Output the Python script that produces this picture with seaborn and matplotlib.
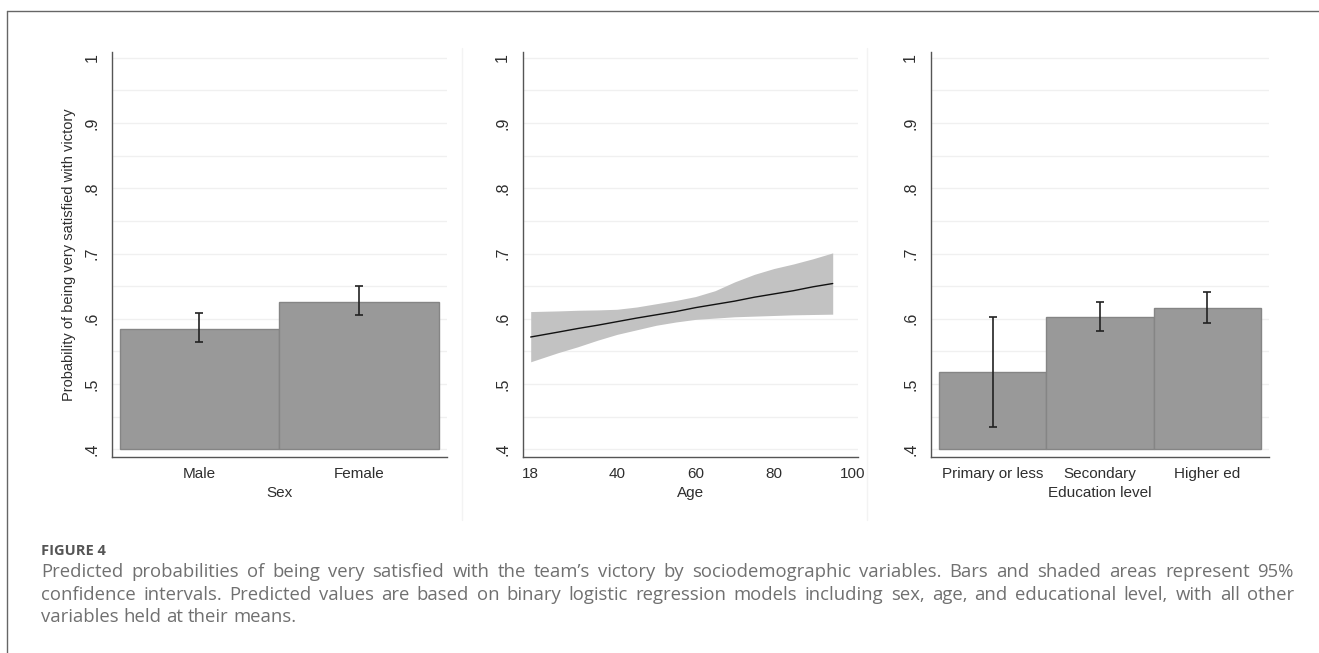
import matplotlib
matplotlib.use("Agg")
import matplotlib.pyplot as plt
from matplotlib.lines import Line2D
import seaborn as sns
import numpy as np
import pandas as pd

# ---------------- data ----------------
sex_labels = ["Male", "Female"]
sex_prob = [0.585, 0.626]
sex_lo = [0.565, 0.606]
sex_hi = [0.609, 0.650]

age = [18, 25, 30, 35, 40, 45, 50, 55, 60, 65, 70, 75, 80, 85, 90, 95]
age_prob = [0.572, 0.5795, 0.585, 0.590, 0.5955, 0.601, 0.606, 0.611, 0.617,
            0.622, 0.627, 0.633, 0.638, 0.643, 0.649, 0.654]
age_hi = [0.611, 0.612, 0.613, 0.6135, 0.6145, 0.618, 0.623, 0.628, 0.634,
          0.643, 0.6565, 0.668, 0.677, 0.684, 0.692, 0.701]
age_lo = [0.534, 0.548, 0.557, 0.567, 0.576, 0.583, 0.590, 0.595, 0.599,
          0.601, 0.603, 0.604, 0.605, 0.606, 0.6065, 0.607]

edu_labels = ["Primary or less", "Secondary", "Higher ed"]
edu_prob = [0.519, 0.602, 0.616]
edu_lo = [0.4345, 0.581, 0.593]
edu_hi = [0.602, 0.626, 0.641]

y_ticks = [0.4, 0.5, 0.6, 0.7, 0.8, 0.9, 1.0]
y_ticklabels = [".4", ".5", ".6", ".7", ".8", ".9", "1"]
age_ticks = [18, 40, 60, 80, 100]

ylabel = "Probability of being very satisfied with victory"
caption_head = "FIGURE 4"
caption_lines = [
    "Predicted probabilities of being very satisfied with the team\u2019s victory by sociodemographic variables. Bars and shaded areas represent 95%",
    "confidence intervals. Predicted values are based on binary logistic regression models including sex, age, and educational level, with all other",
    "variables held at their means.",
]

# ---------------- style ----------------
sns.set_style("white")
plt.rcParams["font.family"] = ["Liberation Sans", "DejaVu Sans"]

W, H = 1319, 653
fig = plt.figure(figsize=(W / 100, H / 100), dpi=100)

def box(x0, x1, y0, y1):
    return [x0 / W, 1 - y1 / H, (x1 - x0) / W, (y1 - y0) / H]

ax1 = fig.add_axes(box(112, 447, 52, 457))
ax2 = fig.add_axes(box(522.7, 858, 52, 457))
ax3 = fig.add_axes(box(930.7, 1269.3, 52, 457))

SPINE = "#555555"
BAR = "#999999"
BAREDGE = "#858585"
GRID = "#f0f0f0"
TXT = "#2e2e2e"

def style_axis(ax):
    for s in ["top", "right"]:
        ax.spines[s].set_visible(False)
    for s in ["left", "bottom"]:
        ax.spines[s].set_color(SPINE)
        ax.spines[s].set_linewidth(1.0)
    ax.set_ylim(0.388, 1.009)
    ax.set_yticks(y_ticks)
    ax.set_yticklabels(y_ticklabels, rotation=90, va="center", fontsize=11.5, color=TXT)
    ax.tick_params(axis="both", which="major", length=5, width=1, color=SPINE, direction="out")
    ax.tick_params(axis="y", pad=4)
    ax.tick_params(axis="x", pad=2, labelsize=11, labelcolor=TXT)
    for g in np.arange(0.40, 1.001, 0.05):
        ax.axhline(g, color=GRID, lw=1.0, zorder=0)
    ax.set_facecolor("white")

def bar_panel(ax, labels, prob, lo, hi, xlim, xlabel):
    df = pd.DataFrame({"cat": labels, "p": prob})
    sns.barplot(data=df, x="cat", y="p", ax=ax, color=BAR, width=1.0,
                errorbar=None, saturation=1, edgecolor=BAREDGE, linewidth=1.0, zorder=2)
    for patch, v in zip(ax.patches, prob):
        patch.set_y(0.4)
        patch.set_height(v - 0.4)
    x = np.arange(len(labels))
    p = np.array(prob)
    ax.errorbar(x, p, yerr=[p - np.array(lo), np.array(hi) - p], fmt="none",
                ecolor="#222222", elinewidth=1.2, capsize=3, capthick=1.2, zorder=3)
    ax.set_xlim(*xlim)
    ax.set_xlabel(xlabel, fontsize=11, color=TXT, labelpad=4)
    ax.set_ylabel("")

style_axis(ax1)
bar_panel(ax1, sex_labels, sex_prob, sex_lo, sex_hi, (-0.547, 1.55), "Sex")
ax1.set_ylabel(ylabel, fontsize=10.5, color=TXT, labelpad=6)

style_axis(ax2)
ax2.fill_between(age, age_lo, age_hi, color="#c2c2c2", lw=0, zorder=2)
sns.lineplot(x=age, y=age_prob, ax=ax2, color="#111111", lw=1.0, zorder=3)
ax2.set_xlim(15.96, 101.45)
ax2.set_xticks(age_ticks)
ax2.set_xticklabels([str(a) for a in age_ticks])
ax2.set_xlabel("Age", fontsize=11, color=TXT, labelpad=4)
ax2.set_ylabel("")

style_axis(ax3)
bar_panel(ax3, edu_labels, edu_prob, edu_lo, edu_hi, (-0.58, 2.58), "Education level")

# faint panel separators
for xs in [462, 867]:
    fig.add_artist(Line2D([xs / W, xs / W], [1 - 48 / H, 1 - 520 / H],
                          color="#f3f3f3", lw=1.0, transform=fig.transFigure))

# outer frame (top + left)
fig.add_artist(Line2D([7 / W, 1.0], [1 - 11 / H, 1 - 11 / H], color="#666666", lw=1.0,
                      transform=fig.transFigure))
fig.add_artist(Line2D([7 / W, 7 / W], [1 - 11 / H, 0.0], color="#666666", lw=1.0,
                      transform=fig.transFigure))

# caption
CAP = ["Open Sans", "DejaVu Sans"]
CAPSIZE = 13.3
fig.text(41 / W, 1 - 551 / H, caption_head, family=CAP, fontsize=10.5, fontweight="bold",
         color="#555555", va="center", ha="left")

renderer = fig.canvas.get_renderer()
x_left, x_right = 41, 1294
line_y = [572, 594.5, 617]
for i, (line, yy) in enumerate(zip(caption_lines, line_y)):
    words = line.split(" ")
    texts = [fig.text(0, 1 - yy / H, w, family=CAP, fontsize=CAPSIZE, color="#707070",
                      va="center", ha="left") for w in words]
    widths = [t.get_window_extent(renderer).width for t in texts]
    if i < len(caption_lines) - 1:
        gap = (x_right - x_left - sum(widths)) / (len(words) - 1)
    else:
        sp = fig.text(0, 0, "a a", family=CAP, fontsize=CAPSIZE)
        sp2 = fig.text(0, 0, "aa", family=CAP, fontsize=CAPSIZE)
        gap = sp.get_window_extent(renderer).width - sp2.get_window_extent(renderer).width
        sp.remove(); sp2.remove()
    xpos = x_left
    for t, w in zip(texts, widths):
        t.set_x(xpos / W)
        xpos += w + gap

fig.savefig("out.png", dpi=100, facecolor="white")
